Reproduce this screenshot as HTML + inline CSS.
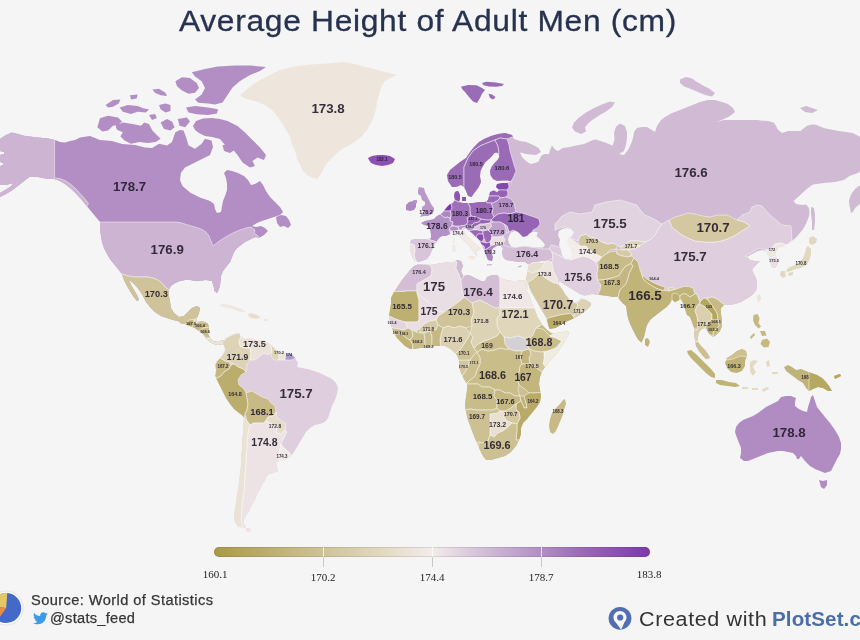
<!DOCTYPE html>
<html lang="en"><head><meta charset="utf-8"><title>Average Height of Adult Men (cm)</title>
<style>
html,body{margin:0;padding:0;background:#f5f5f5;}
body{width:860px;height:640px;overflow:hidden;position:relative;font-family:"Liberation Sans",sans-serif;}
#chart{position:absolute;left:0;top:0;width:860px;height:640px;display:block;filter:blur(0.45px);}
.ttl{position:absolute;left:178.5px;top:3.4px;font-size:30px;line-height:36px;color:#26324f;white-space:nowrap;letter-spacing:0.63px;transform:scaleX(1.06);transform-origin:0 0;-webkit-text-stroke:0.3px #26324f;}
.lg{position:absolute;left:214px;top:547px;width:436px;height:10px;border-radius:5px;background:linear-gradient(90deg,rgb(170,154,70) 0%,rgb(243,236,232) 50%,rgb(222,206,222) 57.56%,rgb(208,186,212) 62.8%,rgb(178,142,196) 75%,rgb(155,108,182) 83.8%,rgb(125,55,172) 100%);box-shadow:inset 0 0 0 1px rgba(60,50,60,0.13);}
.tk{position:absolute;top:547px;width:1px;height:20px;background:linear-gradient(180deg,rgba(255,255,255,.75) 0,rgba(255,255,255,.75) 10px,#c8c8c8 10px,#c8c8c8 20px);}
.tl{position:absolute;width:60px;margin-left:-30px;text-align:center;font-family:"Liberation Serif",serif;font-size:11px;line-height:12px;color:#222;}
.src{position:absolute;left:31px;top:592.9px;font-size:13.8px;line-height:16px;color:#363636;white-space:nowrap;letter-spacing:0.39px;transform:scaleX(1.06);transform-origin:0 0;-webkit-text-stroke:0.25px #363636;}
.tw{position:absolute;left:50px;top:611px;font-size:13.8px;line-height:16px;color:#363636;white-space:nowrap;letter-spacing:0.25px;transform:scaleX(1.06);transform-origin:0 0;-webkit-text-stroke:0.25px #363636;}
.cr{position:absolute;left:639.3px;top:607.2px;font-size:19.6px;line-height:24px;color:#333;white-space:nowrap;letter-spacing:0.55px;transform:scaleX(1.1);transform-origin:0 0;}
.ps{position:absolute;left:771.5px;top:607.2px;font-size:19.6px;line-height:24px;color:#4b6ea8;font-weight:bold;white-space:nowrap;letter-spacing:0.1px;transform:scaleX(1.05);transform-origin:0 0;}
svg text{font-family:"Liberation Sans",sans-serif;font-weight:bold;fill:#241d2b;fill-opacity:0.92;stroke:none;text-anchor:middle;}
</style></head><body>
<svg id="chart" width="860" height="640" viewBox="0 0 860 640">
<defs><clipPath id="c1"><path d="M0,139L6,135L12,132.5L18,134L25,136L38,137.5L48,138.5L55,140L60,142L65,142.5L70,141L75,140L80,137.5L90,136L100,140L112,141L122,144L135,145L145,147.5L152,148L159,143.7L167,145.4L172,142L174,136L175.4,132.2L180,130L183.6,130.6L186,137L188.5,145.4L195,148.7L201.7,143.7L205,138.8L211.5,140.5L213,147L210,155L203,158.5L198,161L192,164L185,167.5L181,172.5L180,180L182.5,186L190,192.5L200,197.5L210,201L214,204L215,209L217,213L221,212L222,206L223,201L225,196L227,190L227,184L226,178L224,173L227,170L232,171L238,173L244,176L248,180L251,185L255,184L260,181L263,185L266,191L270,197L275,202L280,207L283,212L280,215L274,217L268,219L262,221L257,223L252,226L256,227L261,226L265,228L268,231L264,235L259,238L256,237L253,238L249,240L245,242L241,245L237,248L234,252L232,257L230,262L226,267L223,271L221,276L220.5,281L220,285L219,289L217,293L214.5,291L213.5,286L212,281L206,280L202,280.5L196,281L190,280L185,280L180,281L175,283L171,286L169,290L169,296L170,302L171,308L174,313L179,317L184,316L188,312L192,308L197,306L200,308L199,313L197,318L196,321L200,321L205,322L208,324L209,329L208,334L210,338L213,341L218,342L223,340L227,342L226,345L222,344L218,345L214,344L210,342L206,338L203,334L199,331L195,328L190,326L185,324L182,324L178,321L173,320L167,318L161,316L155,312L150,307L146,302L143,296L140,291L136,286L132,282L129,280L131,285L134,290L137,295L139,300L137,301L133,296L130,291L127,286L124,280L122,274L118,269L114,264L110,259L107,254L104,248L102,242L101,236L100,229L100,222L95,216L90,210L85,204L80,198L75,192.5L70,188L65,184L59,180.5L54,179L48,179L38,177L30,176.5L24,181L19,185L12.5,190L6,194L0,197L0,193L5,190L10,187L14,183L10,184L5,185L0,185L0,166L3,165L3,163L0,162L0,155L4,154L4,152L0,151ZM276,217L281,215L286,216L289,220L291,225L288,228L284,226L280,227L277,223ZM193,126L196,121L203,118.5L212,118L220,119L227.5,121L237.5,126L245,132.5L252.5,140L260,147.5L266,155L264,160L257.5,157.5L252.5,161L255,166L250,167.5L242.5,162.5L237.5,155L232.5,149L225,145L220,139L212,137L205,136L199,133L195,130ZM97.4,127.3L99.9,118.3L108,115.8L118,117.5L122,121.6L118,124.9L113,125.7L108,130.6L102.3,131.4ZM115.5,125.7L122.8,122.4L132.7,124L141,125.7L144.2,122.4L149,124L152.4,130.6L157.3,135.5L160.6,138.8L155.7,142L147.5,143L139.3,142L131,143.7L124.5,140.5L120.4,136.4L122.8,132.2L117,129.8ZM105.6,105L113,100L120.4,99.4L118.7,103.5L113,106.8L108,107.6ZM119.6,107.6L127.8,105L137.6,106L144,108.4L149,109.3L145.8,112.5L137.6,111.7L131,114L122.8,111.7ZM130,95.3L137.6,94.5L136.8,98.6L131,99.4ZM152.4,89.6L159,88.7L165.5,92.8L167,96L160.6,95.3L154.9,92.8ZM159,105L165.5,103.5L170.5,105L170.5,111L165.5,112.5L160.6,109.3ZM160.6,122.4L167,119L172,121.6L174.6,127.3L170.5,130.6L164,129ZM177.8,119L186.9,117.5L190,121.6L185.2,127.3L179.5,125.7ZM186,107.6L195,106L208,107.6L218,109.3L217,113.4L208,115L196.7,114.2L188.5,112.5ZM175.4,81.3L182,77.2L190,78L196.7,83L199,87.9L195,92.8L188.5,93.7L182,90.4L177,86.3ZM191.8,72.3L205,69L218,66.6L235,65.5L250,65.5L266,67L260,71L250,75L240,81L232.5,87.5L227.5,95L222.5,102.5L215,104.5L208,103.5L198.4,102.7L195,99.4L201.7,94.5L205,87.9L201.7,81.3L195,76.4ZM222.5,145L232.5,144L236,149L230,153L224,151ZM149,115L155,114L157,118L152,120Z"/></clipPath><clipPath id="c3"><path d="M219,305L224,304L230,305L236,307L242,309L246,312L241,312L235,310L229,308L223,307ZM247,314L252,313L258,315L261,318L256,319L250,318ZM264,319L268,319L268,321L264,321Z"/></clipPath><clipPath id="c4"><path d="M223,342L226,338L230,336L234,334L239,333L241,337L245,339L250,338L256,340L262,340L267,342L271,345L275,349L280,352L286,353L291,354L295,358L298,363L297,367L302,368L308,369L314,371L320,373L326,376L332,379L336,383L338,388L337,394L335,400L332,406L330,412L328,418L325,422L320,424L315,425L310,428L306,432L303,437L300,442L297,447L294,452L291,456L287,459L283,460L279,461L276,463L277,467L278,471L274,473L269,474L266,477L265,481L262,484L261,488L258,492L256,497L254,502L251,506L249,511L246,515L244,519L243,523L246,527L243,528L238,526L235,522L234,516L235,510L236,503L237,496L238,489L239,482L240,474L241,466L241,458L242,450L242,442L243,434L243,426L244,420L243,416L239,413L234,409L230,404L226,398L223,392L220,386L217,380L215,375L216,370L215,365L217,361L220,358L223,354L225,350L224,346ZM246,528L251,529L250,532L246,531Z"/></clipPath><clipPath id="c5"><path d="M419,264L424,264L430,265L436,264L442,263L448,262L454,262L457,260L461,261L463,266L461,271L463,276L469,275L473,277L477,279L481,281L485,281L487,277L492,275L497,275L501,278L506,280L512,281L517,281L522,280L526,281L528,284L528,290L526,287L525,284L524,284L526,290L529,296L531,301L534,308L537,316L540,321L543,326L547,330L551,333L556,333L562,332L568,331L569,334L566,339L562,346L557,353L551,360L546,366L542,371L540,377L539,384L540,390L541,396L540,402L536,408L531,414L527,419L523,423L521,428L521,434L519,440L516,446L511,452L505,456L498,458L491,460L486,460L483,456L480,450L477,443L474,436L471,428L468,420L466,412L465,405L466,397L467,390L467,384L464,379L461,373L459,367L459,360L457,355L453,351L449,348L445,346L440,346L435,346L430,347L425,348L420,348L415,349L410,349L405,346L401,342L397,338L394,333L392,328L390,322L389,316L390,310L391,304L391,298L394,292L398,286L402,280L406,275L410,270L414,266Z"/></clipPath><clipPath id="c7"><path d="M452,187L448,181L447,175L450,170L455,166L460,162L466,158L470,152L474,147L479,142L484,139L491,136L498,134L505,133L512,135L514,139L520,141L526,142L531,144L535,146L538.5,148L541,152L536,155L530,154.5L526,154L520,152.5L522,157L525,160L528,162.5L531,164L535,163L538.5,161.5L540,158L541.5,155.5L544.5,154L549,154L550,150L552,145.6L555,149.4L558,151L562.7,148L570,147L576,145.6L584,144L593,140L596,139.5L605,142.6L612.7,145.6L614.5,140L614,133L616,126.7L620,123.6L625,126L627,132L627,138L626,145L624,151L619,154L624,155L628,150L631,144L633,138L634,132L637,128L642,127L647,127L652,130L655,132L657,126L661,120L665,117L672,113L680,110L690,106L700,102L708,100L715,100L722,102L728,104L733,108L735,112L730,116L724,119L716,122L724,120L732,120L745,120L757,120L765,121L762.5,120.5L768,121L774,122.7L776,126L778,129.7L782,133L788,131L794,131L800.5,131L804,128L807.5,125.5L812,124.5L816,124.8L820,126.5L824.5,128.3L831,129.5L838.5,131L846,132L852.5,133L860,136.7L860,172L855,174L849.5,176L844,180L835,182L824,183L813,184.5L808,188L803,192.5L798,197L793.5,201L796,204L802,205L806,204.5L809,208L809.5,212L809,216L807.5,220L806,224L804,227.5L802,230.5L799,234L796,237.5L793,240L790.5,242L787,244L783,246L779,247L776,251L775,255L777,259L778,264L775,268L772,267L770,262L769,257L767,252L762,250L758,251L754,253L750,255L747,257L750,260L755,261L760,261L757,264L754,267L752,270L754,274L756,278L757,283L757,288L755,292L751,296L746,299L741,302L735,304L729,305L724,305L721,308L721,314L722,320L722,326L720,331L716,335L713,337L710,335L708,332L705,328L702,329L699,332L698,337L698,342L701,346L705,350L708,354L710,358L706,359L702,355L699,351L696,346L695,340L694,334L694,328L692,322L690,317L687,315L685,309L683,303L681,299L678,300.5L675,302L672,299.5L670.5,303L666,307.5L658,313.5L650.5,319.5L647.5,324L646,328L645,333L644,337L641.5,342.5L638.5,340L636,336L634,332L631.5,327L629.5,322.5L628,318L627,313.5L626.5,309L626,306L622.5,303L619,299L618.5,296.5L613,297L608,296L604,295.5L598,294.7L592,294L588,295L584,295.5L580,294L573.5,290L567.5,286.5L561.5,282.5L559,281L558.5,283.5L562.5,289.5L566,295.5L569,298.5L572,301.5L576.5,302.5L581,298.5L586,300L591,303L590.5,306L586,310.5L580,315L573.5,318.5L564.5,322.5L555.5,328L549.5,329L548,324L546.5,318L542,310.5L536,300L532,293L529.5,288L528,282.5L526,279L527,274L528,269L529,265L525,262L518,262L512,261L506,260L503,257L502,252L503,248L501,246L497,246L493,248L491,252L493,257L492,261L488,260L486,255L484,250L482,245L480,241L476,237L472,233L468,230L466,228L463,229L465,233L469,238L473,242L478,246L481,249L478,250L476,252L477,256L474,253L471,248L467,244L463,240L460,236L457,233L454,232L450,234L446,236L442,236L439,238L437,241L434,245L432,250L430,255L427,259L422,261L418,262L414,260L412,256L410,250L410,244L411,240L416,239L422,239L428,239L431,238L431,234L430,229L428,226L424,225L421,223L425,221L430,220L434,219L437,216L441,214L444,211L447,207L450,204L453,203L455,200L454,196L455,192L458,191L460,195L460,199L459,202L463,203L468,203L473,203L479,202L485,202L488,200L489,196L490,192L494,190L497,192L499,190L496,187L497,184L502,183L507,183L513,182L508,180.5L502,180.5L497,181L493,179L490.5,175L490,171L491.5,167L494,163.5L497.5,160L499.5,156.5L498,153.5L496.5,152.5L494.5,153L492,156L489,159L485.5,162L483,166L480.5,171L480,176.5L481,182L478.5,187.5L475,192L471.5,197L468,196L466,191L464,187L461,185L456,187ZM615,102.5L612,107L606,111.5L599,115.5L593,119.5L588,123.5L585,127.5L586,131.5L581,134L575,131.5L572,127.5L574,122.5L579,117.5L586,112.5L594,108L603,104L610,101.5ZM680,79.5L686,77L692,78.5L697,82L703,85.5L709,88.5L715,93L712,96.5L705,95L698,92L691,89L684,86.5L680,83ZM800,108L806,106L812,108L818,110L812,113L805,112ZM811,207L814,208L815,215L815,222L814,230L812,230L812,222L811,214ZM860,185.5L856,188L852.5,192L850,197L849,201L849.5,206L851,213L853,212L855,208L857.5,206L860,204Z"/></clipPath><clipPath id="c19"><path d="M687,351L691,350L696,354L701,359L706,364L711,369L715,374L715,378L711,377L706,373L701,368L696,363L691,358L688,354ZM716,380L722,380L729,382L736,383L740,386L735,387L727,386L720,385L716,383ZM727,358L732,355L737,351L742,349L746,351L747,356L745,361L745,366L742,371L737,373L731,372L727,368L725,363Z"/></clipPath><clipPath id="c21"><path d="M784,367L788,365L792,367L796,370L801,369L806,371L811,373L817,375L822,378L826,382L829,386L832,391L828,391L823,388L818,387L813,389L809,391L806,388L803,383L798,380L794,377L790,374L786,371ZM834,376L840,374L841,376L835,379Z"/></clipPath></defs>
<path d="M0,139L6,135L12,132.5L18,134L25,136L38,137.5L48,138.5L55,140L60,142L65,142.5L70,141L75,140L80,137.5L90,136L100,140L112,141L122,144L135,145L145,147.5L152,148L159,143.7L167,145.4L172,142L174,136L175.4,132.2L180,130L183.6,130.6L186,137L188.5,145.4L195,148.7L201.7,143.7L205,138.8L211.5,140.5L213,147L210,155L203,158.5L198,161L192,164L185,167.5L181,172.5L180,180L182.5,186L190,192.5L200,197.5L210,201L214,204L215,209L217,213L221,212L222,206L223,201L225,196L227,190L227,184L226,178L224,173L227,170L232,171L238,173L244,176L248,180L251,185L255,184L260,181L263,185L266,191L270,197L275,202L280,207L283,212L280,215L274,217L268,219L262,221L257,223L252,226L256,227L261,226L265,228L268,231L264,235L259,238L256,237L253,238L249,240L245,242L241,245L237,248L234,252L232,257L230,262L226,267L223,271L221,276L220.5,281L220,285L219,289L217,293L214.5,291L213.5,286L212,281L206,280L202,280.5L196,281L190,280L185,280L180,281L175,283L171,286L169,290L169,296L170,302L171,308L174,313L179,317L184,316L188,312L192,308L197,306L200,308L199,313L197,318L196,321L200,321L205,322L208,324L209,329L208,334L210,338L213,341L218,342L223,340L227,342L226,345L222,344L218,345L214,344L210,342L206,338L203,334L199,331L195,328L190,326L185,324L182,324L178,321L173,320L167,318L161,316L155,312L150,307L146,302L143,296L140,291L136,286L132,282L129,280L131,285L134,290L137,295L139,300L137,301L133,296L130,291L127,286L124,280L122,274L118,269L114,264L110,259L107,254L104,248L102,242L101,236L100,229L100,222L95,216L90,210L85,204L80,198L75,192.5L70,188L65,184L59,180.5L54,179L48,179L38,177L30,176.5L24,181L19,185L12.5,190L6,194L0,197L0,193L5,190L10,187L14,183L10,184L5,185L0,185L0,166L3,165L3,163L0,162L0,155L4,154L4,152L0,151ZM276,217L281,215L286,216L289,220L291,225L288,228L284,226L280,227L277,223ZM193,126L196,121L203,118.5L212,118L220,119L227.5,121L237.5,126L245,132.5L252.5,140L260,147.5L266,155L264,160L257.5,157.5L252.5,161L255,166L250,167.5L242.5,162.5L237.5,155L232.5,149L225,145L220,139L212,137L205,136L199,133L195,130ZM97.4,127.3L99.9,118.3L108,115.8L118,117.5L122,121.6L118,124.9L113,125.7L108,130.6L102.3,131.4ZM115.5,125.7L122.8,122.4L132.7,124L141,125.7L144.2,122.4L149,124L152.4,130.6L157.3,135.5L160.6,138.8L155.7,142L147.5,143L139.3,142L131,143.7L124.5,140.5L120.4,136.4L122.8,132.2L117,129.8ZM105.6,105L113,100L120.4,99.4L118.7,103.5L113,106.8L108,107.6ZM119.6,107.6L127.8,105L137.6,106L144,108.4L149,109.3L145.8,112.5L137.6,111.7L131,114L122.8,111.7ZM130,95.3L137.6,94.5L136.8,98.6L131,99.4ZM152.4,89.6L159,88.7L165.5,92.8L167,96L160.6,95.3L154.9,92.8ZM159,105L165.5,103.5L170.5,105L170.5,111L165.5,112.5L160.6,109.3ZM160.6,122.4L167,119L172,121.6L174.6,127.3L170.5,130.6L164,129ZM177.8,119L186.9,117.5L190,121.6L185.2,127.3L179.5,125.7ZM186,107.6L195,106L208,107.6L218,109.3L217,113.4L208,115L196.7,114.2L188.5,112.5ZM175.4,81.3L182,77.2L190,78L196.7,83L199,87.9L195,92.8L188.5,93.7L182,90.4L177,86.3ZM191.8,72.3L205,69L218,66.6L235,65.5L250,65.5L266,67L260,71L250,75L240,81L232.5,87.5L227.5,95L222.5,102.5L215,104.5L208,103.5L198.4,102.7L195,99.4L201.7,94.5L205,87.9L201.7,81.3L195,76.4ZM222.5,145L232.5,144L236,149L230,153L224,151ZM149,115L155,114L157,118L152,120Z" fill="#b28ec4"/>
<g clip-path="url(#c1)" stroke="#fff" stroke-opacity="0.6" stroke-width="0.8" stroke-linejoin="round"><path d="M100,222L177,222L182,223L188,225L195,227L201,229L206,232L209,236L211,241L213,246L218,242L224,238L229,235L235,232L240,230L246,228L251,227L255,230L254,233L257,235L262,240L250,300L200,300L171,286L169,290L165,287L162,283L158,280L153,278L148,277L142,277L135,277L128,276L122,274L110,274L90,240L95,222Z" fill="#ccb4d2"/><path d="M-5,120L54.6,120L54.6,178L60,178.5L66,181L71,184.5L76,189L81,194.5L85,199L88.5,203.5L86,208L80,212L-5,212Z" fill="#ccb4d2"/><path d="M180,316L215,316L235,350L200,350Z" fill="#c7ba85"/><path d="M122,274L128,276L135,277L142,277L148,277L153,278L158,280L162,283L165,287L169,290L180,290L205,300L205,312L197,318L194,320L189,320L187,323L184,325L170,330L120,310L110,274Z" fill="#cfc499"/><path d="M184,325L187,323L189,320L194,320L194,324L192,327L189,329L184,328Z" fill="#baac69"/><path d="M194,320L197,318L199,316L199,322L194,324Z" fill="#e2d9c3"/><path d="M192,327L194,324L199,322L210,322L210,327L203,328L199,331L196,331L193,329Z" fill="#c5b881"/><path d="M199,331L203,328L210,327L212,338L207,338L203,335Z" fill="#c8bc89"/><path d="M207,338L212,338L216,340L224,339L229,342L228,347L206,347Z" fill="#ece4d9"/></g>
<path d="M240,95L246,90L252,85L260,80L270,75L280,70L292,67L305,65L318,64L332,63L345,62L358,65L370,68L382,71L397,75L390,78L384,82L381,88L379,95L377,102L376,109L374,116L371,123L367,130L362,136L356,141L350,145L344,148L338,152L333,157L328,162L324,168L321,174L317,179L312,178L307,175L303,171L300,165L297,158L295,151L292,144L290,137L286,130L282,123L277,116L272,110L265,105L258,102L250,100L244,98Z" fill="#eee6dc"/>
<path d="M219,305L224,304L230,305L236,307L242,309L246,312L241,312L235,310L229,308L223,307ZM247,314L252,313L258,315L261,318L256,319L250,318ZM264,319L268,319L268,321L264,321Z" fill="#f0e8e0"/>
<g clip-path="url(#c3)" stroke="#fff" stroke-opacity="0.6" stroke-width="0.8" stroke-linejoin="round"><path d="M247,314L252,313L258,315L261,318L256,319L250,318Z" fill="#e7decd"/></g>
<path d="M223,342L226,338L230,336L234,334L239,333L241,337L245,339L250,338L256,340L262,340L267,342L271,345L275,349L280,352L286,353L291,354L295,358L298,363L297,367L302,368L308,369L314,371L320,373L326,376L332,379L336,383L338,388L337,394L335,400L332,406L330,412L328,418L325,422L320,424L315,425L310,428L306,432L303,437L300,442L297,447L294,452L291,456L287,459L283,460L279,461L276,463L277,467L278,471L274,473L269,474L266,477L265,481L262,484L261,488L258,492L256,497L254,502L251,506L249,511L246,515L244,519L243,523L246,527L243,528L238,526L235,522L234,516L235,510L236,503L237,496L238,489L239,482L240,474L241,466L241,458L242,450L242,442L243,434L243,426L244,420L243,416L239,413L234,409L230,404L226,398L223,392L220,386L217,380L215,375L216,370L215,365L217,361L220,358L223,354L225,350L224,346ZM246,528L251,529L250,532L246,531Z" fill="#decede"/>
<g clip-path="url(#c4)" stroke="#fff" stroke-opacity="0.6" stroke-width="0.8" stroke-linejoin="round"><path d="M223,342L226,338L230,336L234,334L240,333L241,337L239,341L240,346L245,348L250,348L251,354L250,360L247,364L246,372L243,369L238,367L234,364L229,362L225,361L220,358L223,354L225,350L224,346L215,350L215,340Z" fill="#ddd4b8"/><path d="M240,333L241,337L239,341L240,346L245,348L250,348L251,354L250,360L255,360L259,357L264,353L268,355L272,352L271,345L267,342L262,340L256,340L250,338L245,339L242,330Z" fill="#ebe3d7"/><path d="M271,345L272,352L271,356L274,360L279,360L279,355L280,352L275,349L274,343Z" fill="#ded5ba"/><path d="M279,355L279,360L285,360L286,353L280,352Z" fill="#ece4d9"/><path d="M286,353L285,360L291,360L296,358L295,352Z" fill="#a99bcb"/><path d="M215,375L216,370L215,365L217,361L220,358L225,361L229,362L231,365L229,369L224,372L221,376L217,378L212,378L212,360Z" fill="#c4b77f"/><path d="M217,378L221,376L224,372L229,369L231,365L234,364L238,367L243,369L246,372L241,375L238,380L239,385L244,389L246,393L247,398L248,404L247,410L245,414L244,418L240,416L225,405L210,380Z" fill="#bbad6c"/><path d="M246,393L252,391L257,394L262,397L268,399L271,403L275,406L276,412L273,416L268,417L264,423L259,423L254,423L250,425L247,421L245,414L247,410L248,404L247,398Z" fill="#c7ba86"/><path d="M268,417L273,416L276,412L277,418L282,421L286,424L285,430L281,434L276,433L277,428L272,424L266,421Z" fill="#e5dcc9"/><path d="M250,425L254,423L259,423L264,423L266,421L272,424L277,428L276,433L281,434L285,430L287,432L284,438L281,444L280,450L279,461L284,463L284,476L270,482L250,532L243,532L241,520L242,505L244,490L245,475L246,460L247,445L248,432Z" fill="#ede3e5"/><path d="M281,444L284,448L289,452L292,456L288,460L283,461L279,461L280,450Z" fill="#f2ebe6"/><path d="M244,418L247,421L250,425L248,432L247,445L246,460L245,475L244,490L242,505L241,520L243,530L230,530L230,410Z" fill="#eae2d5"/></g>
<path d="M419,264L424,264L430,265L436,264L442,263L448,262L454,262L457,260L461,261L463,266L461,271L463,276L469,275L473,277L477,279L481,281L485,281L487,277L492,275L497,275L501,278L506,280L512,281L517,281L522,280L526,281L528,284L528,290L526,287L525,284L524,284L526,290L529,296L531,301L534,308L537,316L540,321L543,326L547,330L551,333L556,333L562,332L568,331L569,334L566,339L562,346L557,353L551,360L546,366L542,371L540,377L539,384L540,390L541,396L540,402L536,408L531,414L527,419L523,423L521,428L521,434L519,440L516,446L511,452L505,456L498,458L491,460L486,460L483,456L480,450L477,443L474,436L471,428L468,420L466,412L465,405L466,397L467,390L467,384L464,379L461,373L459,367L459,360L457,355L453,351L449,348L445,346L440,346L435,346L430,347L425,348L420,348L415,349L410,349L405,346L401,342L397,338L394,333L392,328L390,322L389,316L390,310L391,304L391,298L394,292L398,286L402,280L406,275L410,270L414,266Z" fill="#ccc091"/>
<g clip-path="url(#c5)" stroke="#fff" stroke-opacity="0.6" stroke-width="0.8" stroke-linejoin="round"><path d="M419,264L430,265L432,270L431,276L424,280L417,284L417,291L405,291L391,292L380,295L385,280L410,260Z" fill="#d3bed6"/><path d="M391,291.5L405,291.5L405,291L417,291L417,293L419,300L419,320L417,322L405,322L398,320L393,318L389,316L384,316L384,292Z" fill="#beb071"/><path d="M431,266L440,260L454,260L457,262L456,268L459,274L461,280L462,290L464,297L460,301L450,308L444,312L438,311L432,305L424,299L417,293L417,284L424,280L431,276L432,270Z" fill="#e9dee3"/><path d="M454,260L457,258L464,260L465,268L463,272L464,276L461,280L459,274L456,268L457,262Z" fill="#d0bad4"/><path d="M461,280L464,276L465,272L477,272L497,272L500,279L500,290L500,303L499,308L495,308L480,300L472,303L464,297L462,290Z" fill="#d3bed6"/><path d="M500,279L497,272L530,272L530,296L532,300L536,308L500,308L500,290Z" fill="#f0e7e6"/><path d="M500,308L536,308L540,316L545,324L540,326L536,328L533,335L530,338L524,338L518,336L510,338L504,337L500,332L497,326L497,318L500,315Z" fill="#dfd6bc"/><path d="M504,337L510,338L518,336L524,338L527,343L529,349L522,351L515,351L509,349L505,344Z" fill="#d3d1d4"/><path d="M530,338L533,335L536,328L540,326L543,329L547,333L550,336L556,338L562,341L556,348L548,351L540,352L534,351L529,349L527,343Z" fill="#c9bd8c"/><path d="M536,328L540,326L545,322L550,330L553,334L550,336L547,333L543,329Z" fill="#c7ba85"/><path d="M550,336L553,334L575,326L575,340L562,346L551,360L546,368L543,364L544,358L544,352L548,351L556,348L562,341L556,338Z" fill="#efede2"/><path d="M529,349L534,351L540,352L544,352L544,358L543,364L546,368L544,374L538,369L530,364L529,358L531,354Z" fill="#d1c69d"/><path d="M522,351L529,349L531,354L529,358L530,364L522,364L520,358Z" fill="#c3b67d"/><path d="M522,364L530,364L538,369L544,374L545,384L545,392L535,393L529,393L525,389L519,385L517,378L519,372L520,366Z" fill="#c3b67d"/><path d="M477,352L482,349L488,351L494,350L500,348L505,349L509,349L515,351L522,351L520,358L522,364L520,366L519,372L517,378L519,385L518,390L520,396L515,396L510,393L505,393L500,390L495,390L490,387L482,387L478,384L470,384L466,384L470,380L475,376L477,370L480,364L480,358Z" fill="#c9bd8a"/><path d="M466,384L470,380L475,376L477,370L480,364L480,358L477,352L473,356L470,360L468,366L465,372L462,376L460,384Z" fill="#ccc091"/><path d="M455,360L466,360L470,360L468,366L465,372L462,376L455,376Z" fill="#d1c69d"/><path d="M453,355L460,350L464,344L468,338L470,333L473,337L471,342L474,348L477,352L473,356L470,360L466,360L455,360Z" fill="#cec396"/><path d="M474,348L478,344L484,341L490,339L497,336L500,332L504,337L505,344L509,349L505,349L500,348L494,350L488,351L482,349L477,352Z" fill="#cabe8d"/><path d="M470,333L472,326L471,320L474,312L472,303L480,300L495,308L499,308L500,315L497,318L497,326L500,332L497,336L490,339L484,341L478,344L474,348L471,342L473,337Z" fill="#dcd3b6"/><path d="M444,312L450,308L460,301L464,297L472,303L474,312L471,320L472,326L466,328L460,326L454,328L448,326L443,328L438,325L436,320L438,316Z" fill="#cfc499"/><path d="M443,328L448,326L454,328L460,326L466,328L470,333L468,338L464,344L460,350L453,355L449,352L441,350L440,340L441,334Z" fill="#dbd1b2"/><path d="M417,293L424,299L432,305L438,311L444,312L438,316L436,320L430,321L424,324L420,328L416,332L412,330L408,328L405,322L417,322L419,320L419,300Z" fill="#e9dee3"/><path d="M420,328L424,324L430,321L436,320L438,325L436,330L430,331L424,333L420,333Z" fill="#d5cba6"/><path d="M384,316L389,316L393,318L398,320L405,322L408,328L404,330L398,329L392,328L384,328Z" fill="#e3d5e0"/><path d="M388,328L392,328L398,329L404,330L408,328L412,330L413,336L410,340L406,338L402,334L397,334L394,335L388,334Z" fill="#c7bb87"/><path d="M394,335L397,334L402,334L406,338L410,340L413,345L412,352L400,350L392,340Z" fill="#bfb275"/><path d="M412,330L416,332L420,333L424,333L425,340L425,350L412,352L413,345L410,340L413,336Z" fill="#c8bc89"/><path d="M424,333L430,331L432,336L432,342L432,350L425,350L425,340Z" fill="#cabe8d"/><path d="M430,331L436,330L438,325L443,328L441,334L440,340L441,350L432,350L432,336Z" fill="#c5b881"/><path d="M460,384L466,384L470,384L478,384L482,387L490,387L495,390L494,396L497,400L497,408L493,410L485,410L477,410L470,409L465,410L460,410Z" fill="#c8bc89"/><path d="M495,390L500,390L505,393L510,393L515,396L520,396L521,401L516,404L511,408L506,411L500,411L497,408L497,400L494,396Z" fill="#c5b882"/><path d="M520,396L524,396L526,402L527,408L524,408L522,403L521,401Z" fill="#c1b479"/><path d="M524,396L529,393L535,393L545,392L545,400L536,412L527,422L524,428L524,440L516,440L517,430L517,424L520,418L519,412L516,410L516,404L521,401L522,403L524,408L527,408L526,402Z" fill="#b9ab67"/><path d="M506,411L511,408L516,404L516,410L519,412L520,418L517,424L512,423L507,421L503,416Z" fill="#d3c8a1"/><path d="M490,414L497,413L500,411L506,411L503,416L507,421L512,423L508,427L503,431L498,433L494,437L490,435L490,425Z" fill="#e9e0d1"/><path d="M460,410L465,410L470,409L477,410L485,410L493,410L497,408L500,411L497,413L490,414L490,425L490,435L488,441L483,443L479,442L470,445L460,420Z" fill="#cdc193"/><path d="M479,442L483,443L488,441L490,435L494,437L498,433L503,431L508,427L512,423L517,424L517,430L516,440L524,440L520,450L505,462L486,464L478,452Z" fill="#ccc192"/></g>
<path d="M565,399L566,404L564,410L562,417L559,424L556,431L553,434L550,432L549,426L550,419L552,413L556,408L560,404L563,400Z" fill="#c7ba85"/>
<path d="M452,187L448,181L447,175L450,170L455,166L460,162L466,158L470,152L474,147L479,142L484,139L491,136L498,134L505,133L512,135L514,139L520,141L526,142L531,144L535,146L538.5,148L541,152L536,155L530,154.5L526,154L520,152.5L522,157L525,160L528,162.5L531,164L535,163L538.5,161.5L540,158L541.5,155.5L544.5,154L549,154L550,150L552,145.6L555,149.4L558,151L562.7,148L570,147L576,145.6L584,144L593,140L596,139.5L605,142.6L612.7,145.6L614.5,140L614,133L616,126.7L620,123.6L625,126L627,132L627,138L626,145L624,151L619,154L624,155L628,150L631,144L633,138L634,132L637,128L642,127L647,127L652,130L655,132L657,126L661,120L665,117L672,113L680,110L690,106L700,102L708,100L715,100L722,102L728,104L733,108L735,112L730,116L724,119L716,122L724,120L732,120L745,120L757,120L765,121L762.5,120.5L768,121L774,122.7L776,126L778,129.7L782,133L788,131L794,131L800.5,131L804,128L807.5,125.5L812,124.5L816,124.8L820,126.5L824.5,128.3L831,129.5L838.5,131L846,132L852.5,133L860,136.7L860,172L855,174L849.5,176L844,180L835,182L824,183L813,184.5L808,188L803,192.5L798,197L793.5,201L796,204L802,205L806,204.5L809,208L809.5,212L809,216L807.5,220L806,224L804,227.5L802,230.5L799,234L796,237.5L793,240L790.5,242L787,244L783,246L779,247L776,251L775,255L777,259L778,264L775,268L772,267L770,262L769,257L767,252L762,250L758,251L754,253L750,255L747,257L750,260L755,261L760,261L757,264L754,267L752,270L754,274L756,278L757,283L757,288L755,292L751,296L746,299L741,302L735,304L729,305L724,305L721,308L721,314L722,320L722,326L720,331L716,335L713,337L710,335L708,332L705,328L702,329L699,332L698,337L698,342L701,346L705,350L708,354L710,358L706,359L702,355L699,351L696,346L695,340L694,334L694,328L692,322L690,317L687,315L685,309L683,303L681,299L678,300.5L675,302L672,299.5L670.5,303L666,307.5L658,313.5L650.5,319.5L647.5,324L646,328L645,333L644,337L641.5,342.5L638.5,340L636,336L634,332L631.5,327L629.5,322.5L628,318L627,313.5L626.5,309L626,306L622.5,303L619,299L618.5,296.5L613,297L608,296L604,295.5L598,294.7L592,294L588,295L584,295.5L580,294L573.5,290L567.5,286.5L561.5,282.5L559,281L558.5,283.5L562.5,289.5L566,295.5L569,298.5L572,301.5L576.5,302.5L581,298.5L586,300L591,303L590.5,306L586,310.5L580,315L573.5,318.5L564.5,322.5L555.5,328L549.5,329L548,324L546.5,318L542,310.5L536,300L532,293L529.5,288L528,282.5L526,279L527,274L528,269L529,265L525,262L518,262L512,261L506,260L503,257L502,252L503,248L501,246L497,246L493,248L491,252L493,257L492,261L488,260L486,255L484,250L482,245L480,241L476,237L472,233L468,230L466,228L463,229L465,233L469,238L473,242L478,246L481,249L478,250L476,252L477,256L474,253L471,248L467,244L463,240L460,236L457,233L454,232L450,234L446,236L442,236L439,238L437,241L434,245L432,250L430,255L427,259L422,261L418,262L414,260L412,256L410,250L410,244L411,240L416,239L422,239L428,239L431,238L431,234L430,229L428,226L424,225L421,223L425,221L430,220L434,219L437,216L441,214L444,211L447,207L450,204L453,203L455,200L454,196L455,192L458,191L460,195L460,199L459,202L463,203L468,203L473,203L479,202L485,202L488,200L489,196L490,192L494,190L497,192L499,190L496,187L497,184L502,183L507,183L513,182L508,180.5L502,180.5L497,181L493,179L490.5,175L490,171L491.5,167L494,163.5L497.5,160L499.5,156.5L498,153.5L496.5,152.5L494.5,153L492,156L489,159L485.5,162L483,166L480.5,171L480,176.5L481,182L478.5,187.5L475,192L471.5,197L468,196L466,191L464,187L461,185L456,187ZM615,102.5L612,107L606,111.5L599,115.5L593,119.5L588,123.5L585,127.5L586,131.5L581,134L575,131.5L572,127.5L574,122.5L579,117.5L586,112.5L594,108L603,104L610,101.5ZM680,79.5L686,77L692,78.5L697,82L703,85.5L709,88.5L715,93L712,96.5L705,95L698,92L691,89L684,86.5L680,83ZM800,108L806,106L812,108L818,110L812,113L805,112ZM811,207L814,208L815,215L815,222L814,230L812,230L812,222L811,214ZM860,185.5L856,188L852.5,192L850,197L849,201L849.5,206L851,213L853,212L855,208L857.5,206L860,204Z" fill="#d0bad4"/>
<g clip-path="url(#c7)" stroke="#fff" stroke-opacity="0.6" stroke-width="0.8" stroke-linejoin="round"><path d="M464,187L464,178L464,167L468,158L473,151L480,146L487,143L495,140L500,138L507,139L512,137L520,137L520,125L440,125L440,195L460,195Z" fill="#9b6cb6"/><path d="M464,187L464,178L464,167L468,158L473,151L480,146L487,143L495,140L498,146L499,153L485,170L485,185L475,200L464,198Z" fill="#9b6cb6"/><path d="M495,140L500,138L507,139L509,145L510,151L512,158L514,165L516,171L513,178L510,183L488,183L487,170L498,158L499,153L498,146Z" fill="#9a6ab6"/><path d="M494,187L497,183L502,182L508,182L509,187L507,190L504,190L499,190Z" fill="#8647af"/><path d="M488,192L494,190L497,192L499,190L504,190L507,190L508,194L506,197L500,198L499,196L494,196L489,196Z" fill="#9561b4"/><path d="M486,200L489,196L494,196L499,196L500,198L497,201L493,203L491,203L487,203Z" fill="#9969b5"/><path d="M491,203L493,203L497,201L500,198L506,197L511,199L514,203L515,208L516,212L510,214L504,213L498,214L494,217L492,213L493,208Z" fill="#b28ec4"/><path d="M494,217L498,214L504,213L510,214L516,212L522,213L528,215L534,217L539,219L540,224L537,228L533,230L531,234L527,238L520,238L517,232L513,230L509,232L507,226L504,224L500,222L494,222L491,220Z" fill="#9664b4"/><path d="M504,224L507,226L509,232L506,233L506,229Z" fill="#cab2d1"/><path d="M466,200L473,200L479,199L485,199L487,203L491,203L493,208L492,213L494,217L491,220L486,220L481,219L476,217L471,216L470,212L470,207L468,203Z" fill="#9969b5"/><path d="M451,204L453,200L455,200L459,202L463,200L466,200L468,203L470,207L470,212L471,216L467,218L468,222L466,225L460,226L455,226L452,225L453,222L450,221L451,215L450,211L452,208Z" fill="#9e70b8"/><path d="M452,189L462,189L462,200L459,202L455,200L452,200Z" fill="#8e55b2"/><path d="M442,207L448,202L451,204L452,208L450,211L446,211L443,211Z" fill="#7d37ac"/><path d="M440,214L443,211L446,211L450,211L451,215L450,218L447,217L445,218Z" fill="#ad86c1"/><path d="M419,224L427,218L432,218L436,215L440,214L445,218L447,217L450,218L450,221L453,222L451,227L449,230L451,234L450,240L439,243L434,241L430,240L430,235L429,230L424,228Z" fill="#b390c5"/><path d="M408,238L416,237L422,237L430,240L434,241L439,243L440,250L430,262L418,264L415,259L414,255L415,250L414,245L411,244Z" fill="#d8c5da"/><path d="M408,244L411,244L414,245L415,250L414,255L415,259L418,264L408,262Z" fill="#ebe0e4"/><path d="M449,228L453,226L458,227L459,230L455,231L451,231Z" fill="#b28ec4"/><path d="M458,227L460,226L466,225L472,225L475,227L473,230L467,231L462,230L459,230Z" fill="#b592c6"/><path d="M451,231L455,231L459,230L462,230L467,231L466,228L462,228L465,233L469,238L473,242L478,246L483,249L478,251L478,258L474,254L471,248L467,244L463,240L460,236L457,233L454,234L450,236Z" fill="#f1eae4"/><path d="M467,218L471,216L476,217L481,219L479,222L474,223L472,225L466,225L468,222Z" fill="#9561b4"/><path d="M479,222L481,219L486,220L491,220L490,223L484,224L480,224L475,227L472,225L474,223Z" fill="#9664b4"/><path d="M475,227L480,224L484,224L490,223L492,226L488,230L483,231L477,230L473,230Z" fill="#d9c7db"/><path d="M464,227L467,231L473,230L477,230L483,231L483,234L478,234L476,237L480,241L476,243L470,236L466,232Z" fill="#9867b5"/><path d="M476,237L478,234L483,234L484,238L482,242L480,241Z" fill="#894cb0"/><path d="M483,231L488,230L491,233L492,238L490,242L486,243L484,238L483,234Z" fill="#9969b5"/><path d="M480,241L482,242L486,243L490,242L491,246L488,248L485,250L484,246L482,245L479,243Z" fill="#8d54b1"/><path d="M490,223L494,222L500,222L504,224L506,229L506,233L503,236L498,237L493,237L491,233L488,230L492,226Z" fill="#bfa1cb"/><path d="M491,238L493,237L498,237L503,236L505,240L503,244L498,245L493,245L491,246L490,242L492,238Z" fill="#ebe0e4"/><path d="M483,250L485,250L488,248L491,246L493,245L498,245L503,244L503,248L497,248L493,250L494,257L493,263L486,262L484,255Z" fill="#aa83bf"/><path d="M501,244L506,246L512,248L518,247L524,246L530,247L537,248L543,249L549,249L552,252L553,258L548,261L540,262L532,263L529,265L525,264L518,264L512,263L506,262L501,258L500,252Z" fill="#d3bed6"/><path d="M549,249L551,245L556,246L561,248L566,251L566,259L560,256L556,254L552,252Z" fill="#dcccdd"/><path d="M529,265L532,263L540,262L545,262L543,267L538,271L532,273L529,271L526,271L526,265Z" fill="#e7decd"/><path d="M524,272L529,271L532,273L538,271L542,274L536,276L532,280L528,284L524,282Z" fill="#e2d9c3"/><path d="M540,262L548,261L552,262L553,270L555,274L557,278L559,281L558,284L554,283L550,281L544,277L540,274L538,271L543,267L545,262Z" fill="#eee6dc"/><path d="M528,282L532,280L536,276L540,274L544,277L550,281L554,283L558,284L563,290L567,296L570,300L573,302L577,303L578,306L576.7,308L574.5,313L573.6,316.7L570.6,313.6L566,314L560,315L554,316.5L548,318L546.5,320L540,322L525,290Z" fill="#d3c8a1"/><path d="M548,318L554,316.5L560,315L566,314L570.6,313.6L573.6,316.7L576,320L570,326L549,334L544,326L546.5,320Z" fill="#baab68"/><path d="M573.6,316.7L574.5,313L576.7,308L578,306L577,303L580,300L582,297L595,298L595,310L583,320L576,322Z" fill="#dcd2b4"/><path d="M569,299L573,302L577,303L580,300L581.5,297L577,298.5L573,299.5Z" fill="#e3dac5"/><path d="M552,252L556,254L560,256L566,259L570,260L576,258L583,256L590,258L596,262L598,268L597,274L597.6,280.3L601,285L600,290L598,298L590,299L582,298L575,294L568,290L562,286L558,283L557,278L555,274L553,270L552,262L553,258Z" fill="#e0d0df"/><path d="M565,236L570,238L576,242L580,246L586,246L590,250L596,254L602,257L600,260L596,262L590,258L583,256L576,258L570,260L568,250L568,244Z" fill="#f3ece8"/><path d="M580,236L586,234L590,237L596,238L602,242L608,244L613,243L618,245L616,249L610,250L606,254L602,257L596,254L590,250L586,246L580,246L578,241Z" fill="#d1c69d"/><path d="M557,222L562,216L570,212L580,214L592,212L595,205L606,202L620,200L630,203L637,205L641,211L645,215L654,219L662,224L658,230L655,235L650,240L645,242L638,241L630,241L625,245L620,247L613,243L608,244L602,242L596,238L590,237L586,234L580,236L578,241L570,238L572,233L570,228L565,227L560,228L555,230L555,224Z" fill="#e1d3e0"/><path d="M620,247L625,245L630,241L638,241L645,242L640,246L634,249L628,250L622,250Z" fill="#dcd2b4"/><path d="M616,249L622,250L628,250L632,254L628,257L622,256L617,254Z" fill="#d5cba6"/><path d="M632,245L640,246L645,242L650,240L655,235L658,230L662,224L669,220L672,227L677,231L682,235L688,238L695,241L705,242L715,242L721,241L727,239L734,236L740,232L745,229L750,226L744,222L737,220L742,215L750,212L752,207L757,205L762,206L770,215L782,225L791,226L792,240L787,245L781,243L775,244L770,250L765,250L760,248L745,256L752,259L762,260L762,290L755,300L735,308L726,306L722,303L717,299L712,297L708,298L704,298L700,302L698,297L696,293L694,296L680,296L660,294L645,288L638,275L632,266L630,258L632,254L628,250L634,249L640,246Z" fill="#decede"/><path d="M669,220L675,217L682,215L688,213L695,214L703,216L710,217L718,215L727,215L733,218L737,220L744,222L750,226L745,229L740,232L734,236L727,239L721,241L715,242L705,242L695,241L688,238L682,235L677,231L672,227Z" fill="#d3c8a1"/><path d="M598,262L602,257L606,254L610,252L616,251L617,254L622,256L628,257L632,256L634,258L631,263.6L625,266.7L622,271L618.8,275.8L612,278L605,279.5L597.6,280.3L597,274L598,268Z" fill="#c8bc89"/><path d="M597.6,280.3L605,279.5L612,278L618.8,275.8L622,271L625,266.7L631,263.6L633,266L631,270L629.4,272.7L628,278L626.4,283.3L623,287L620.3,289.4L619,293L618.8,296L619,302L598,302L598,294L600,290L601,285Z" fill="#c4b780"/><path d="M631,263.6L634,258L638,262L640,269.7L641.5,274L643,278.8L646.5,282L650.6,284.8L655,287.5L659.7,289.4L664,290.5L668.8,291L672,290L674.8,289.4L679,288L684,286.4L688.5,286.5L693,287.9L695,294L690,297L686,294L682,294L680,296L680,305L676,306L672,300L668,308L660,316L650,326L646,350L636,348L624,312L616,303L618.8,296L619,293L620.3,289.4L623,287L626.4,283.3L628,278L629.4,272.7L631,270L633,266Z" fill="#c1b479"/><path d="M642,275L646,278.5L651,281.5L656,284L661,286L665,287L664,290.5L659.7,289.4L655,287.5L650.6,284.8L646.5,282L643,278.8Z" fill="#baab68"/><path d="M668,288L673,287L674.8,289.4L672,290L668.8,291Z" fill="#dad0b0"/><path d="M672,294L676,293L680,296L680,305L676,306L672,300Z" fill="#bcae6e"/><path d="M680,296L682,294L686,294L690,297L695,294L696,293L698,297L700,302L697,306L695,311L697,316L698,322L697,330L692,326L688,318L684,316L683,303L680,305Z" fill="#c2b57b"/><path d="M697,306L700,304L704,306L708,310L712,314L712,320L708,322L706,326L704,330L700,334L699,338L698,342L693,342L693,330L697,330L698,322L697,316L695,311Z" fill="#dad0b0"/><path d="M700,302L704,298L708,300L711,304L714,308L717,313L718,318L718,320L712,320L712,314L708,310L704,306L700,304Z" fill="#b4a65d"/><path d="M708,298L712,297L717,299L722,303L726,306L726,330L718,338L713,338L713,332L718,327L719,326L718,320L718,318L717,313L714,308L711,304L708,300Z" fill="#c7ba85"/><path d="M706,326L708,322L712,320L718,320L719,326L718,327L713,332L713,336L707,333Z" fill="#beb071"/><path d="M693,342L698,342L703,344L708,350L712,358L706,361L701,356L696,350Z" fill="#ccc091"/><path d="M765,250L770,250L775,244L781,243L787,245L782,250L778,252L778,256L770,258L767,254Z" fill="#f0e8e0"/><path d="M768,258L778,256L780,260L780,266L774,270L770,268Z" fill="#ebe0e4"/></g>
<path d="M419,187L424,188L425,192L427,196L429,200L431,204L434,208L434,211L432,214L428,216L424,216L420,217L422,213L425,212L422,210L422,207L425,205L425,202L422,200L421,196L418,194L418,190ZM413,200L417,200L417,203L414,204Z" fill="#b998c8"/>
<path d="M461,86.7L468,85L476.6,85.3L482,88L485,90L482,93.8L480,98L477,103L473,101.5L469,97L465,92L462.5,89.5ZM482,83L486.4,81.8L496,82.5L504,84L502,86L496,86.7L489,86.4L483.6,85.3ZM488.5,93.8L492,94.5L495.5,97L493.4,99.4L490,98Z" fill="#9b6cb6"/>
<path d="M406,205L409,202L413,201L416,203L416,207L414,210L410,211L406,210Z" fill="#ae88c2"/>
<path d="M368,158L372,156L378,155L384,155L390,156L395,159L393,163L388,165L382,166L376,165L371,163L369,160Z" fill="#8c52b1"/>
<path d="M468,256L476,256L474,260L469,259ZM452,245L455,244L456,251L453,252ZM453,238L455,238L455,243L453,243Z" fill="#f1eae4"/>
<path d="M462,197L466,197L466,201L462,201Z" fill="#8e55b2"/>
<path d="M487,264.3L492,264L492,265.3L487,265.5ZM518,266.5L521.5,265.3L521.5,266.8L518,267.6Z" fill="#cab2d1"/>
<path d="M809,238L813,236L817,239L816,243L812,245L809,243ZM808,246L811,249L811,255L809,261L806,265L801,268L796,269L791,271L787,272L786,270L790,267L795,265L800,262L803,258L805,253L806,248ZM781,271L785,271L786,276L783,278L780,275ZM788,273L793,272L793,275L789,276Z" fill="#e1d8c0"/>
<path d="M757,296L760,294L761,299L758,303Z" fill="#ebe3d7"/>
<path d="M753.5,315L757.5,314L759.5,318L758.5,323L761,326.5L758.5,328.5L755,325L753,320ZM762,340L767,338.5L770,342L768.5,347L764,347.5L760.5,344ZM760,331L765,331L766.5,335.5L762,336ZM750,337L754,333L755,335L751,339Z" fill="#c5b881"/>
<path d="M645,339L648,338L650,342L648,347L645,345Z" fill="#c1b479"/>
<path d="M687,351L691,350L696,354L701,359L706,364L711,369L715,374L715,378L711,377L706,373L701,368L696,363L691,358L688,354ZM716,380L722,380L729,382L736,383L740,386L735,387L727,386L720,385L716,383ZM727,358L732,355L737,351L742,349L746,351L747,356L745,361L745,366L742,371L737,373L731,372L727,368L725,363Z" fill="#c0b378"/>
<g clip-path="url(#c19)" stroke="#fff" stroke-opacity="0.6" stroke-width="0.8" stroke-linejoin="round"><path d="M725,350L750,346L750,357L740,356L733,359L726,360Z" fill="#ccc091"/></g>
<path d="M750,362L754,360L758,361L755,364L753,367L756,372L753,376L750,372L750,367ZM742,387L748,387L748,389L742,389ZM752,388L758,388L758,390L752,390ZM762,389L768,387L769,389L763,392ZM766,362L769,360L770,366L767,367ZM772,372L778,372L778,374L772,374Z" fill="#e3dac5"/>
<path d="M784,367L788,365L792,367L796,370L801,369L806,371L811,373L817,375L822,378L826,382L829,386L832,391L828,391L823,388L818,387L813,389L809,391L806,388L803,383L798,380L794,377L790,374L786,371ZM834,376L840,374L841,376L835,379Z" fill="#c0b378"/>
<g clip-path="url(#c21)" stroke="#fff" stroke-opacity="0.6" stroke-width="0.8" stroke-linejoin="round"><path d="M809,360L845,360L845,395L809,395Z" fill="#b6a861"/></g>
<path d="M813,395L815,401L817,407L821,412L825,417L830,423L835,430L839,437L841,443L841,449L840,454L837,459L835,463L833,467L831,471L825,473L820,471L815,469L810,466L805,461L801,456L799,459L797,459L796,456L793,453L788,452L783,451L778,451L773,452L768,453L763,455L758,457L753,459L748,461L744,461L740,458L741,453L741,448L739,443L737,438L735,432L736,427L739,423L743,420L748,418L753,416L758,413L762,410L766,407L770,405L774,403L778,401L781,397L786,396L791,396L796,398L795,402L795,406L799,409L803,411L807,412L808,407L810,401L811,397ZM819,480L823,481L827,480L827,485L824,489L821,487Z" fill="#b18cc3"/>
<path d="M509,236L511,232.5L515,231L518,232L520,234L523,237L527,236L530,233L534,231.5L538,232.5L536.5,236L540,239L543,242L545,245L543,247.5L538,247.5L532,247L526,246L520,246.5L515,247.5L511,246.5L509,243L508,239.5Z" fill="#f5f5f5"/>
<path d="M562,229L566,228L571,229L574,232L572,236L568,238L567,242L569,246L571,250L572,255L570,259L565,259L562,255L561,250L559,245L560,240L558,235L559,231Z" fill="#f5f5f5"/>
<g><text x="129.5" y="190.524" font-size="13.199" stroke-width="0.00">178.7</text><text x="167.2" y="254.26" font-size="13.2975" stroke-width="0.00">176.9</text><text x="328" y="112.56" font-size="13.2975" stroke-width="0.00">173.8</text><text x="691" y="176.56" font-size="13.2975" stroke-width="0.00">176.6</text><text x="610" y="227.596" font-size="13.396" stroke-width="0.00">175.5</text><text x="713" y="231.56" font-size="13.2975" stroke-width="0.00">170.7</text><text x="690" y="260.56" font-size="13.2975" stroke-width="0.00">175.7</text><text x="645" y="300.096" font-size="13.396" stroke-width="0.00">166.5</text><text x="789" y="437.06" font-size="13.2975" stroke-width="0.00">178.8</text><text x="296" y="397.56" font-size="13.2975" stroke-width="0.00">175.7</text><text x="434" y="290.56" font-size="13.2975" stroke-width="0.00">175</text><text x="478" y="296.02" font-size="11.82" stroke-width="0.00">176.4</text><text x="558" y="309.164" font-size="12.214" stroke-width="0.00">170.7</text><text x="516" y="222.48" font-size="10.3425" stroke-width="0.00">181</text><text x="264.5" y="445.552" font-size="10.5395" stroke-width="0.00">174.8</text><text x="262" y="415.12" font-size="9.3575" stroke-width="0.00">168.1</text><text x="254.5" y="347.048" font-size="9.1605" stroke-width="0.00">173.5</text><text x="237.5" y="359.832" font-size="8.5695" stroke-width="0.00">171.9</text><text x="429" y="315.48" font-size="10.3425" stroke-width="0.00">175</text><text x="515" y="317.66" font-size="10.835" stroke-width="0.00">172.1</text><text x="539" y="345.588" font-size="10.638" stroke-width="0.00">168.8</text><text x="492.5" y="378.66" font-size="10.835" stroke-width="0.00">168.6</text><text x="523" y="380.98" font-size="10.3425" stroke-width="0.00">167</text><text x="497" y="449.16" font-size="10.835" stroke-width="0.00">169.6</text><text x="527" y="256.94" font-size="8.865" stroke-width="0.00">176.4</text><text x="578" y="280.732" font-size="11.032" stroke-width="0.00">175.6</text><text x="437" y="228.832" font-size="8.5695" stroke-width="0.00">178.6</text><text x="156.3" y="297.084" font-size="9.259" stroke-width="0.00">170.3</text><text x="402" y="308.58" font-size="7.88" stroke-width="0.00">165.5</text><text x="459" y="315.44" font-size="8.865" stroke-width="0.00">170.3</text><text x="512.5" y="298.58" font-size="7.88" stroke-width="0.00">174.6</text><text x="453" y="341.972" font-size="7.5845" stroke-width="0.00">171.6</text><text x="482.5" y="398.58" font-size="7.88" stroke-width="0.00">168.5</text><text x="505.5" y="404.4" font-size="7.3875" stroke-width="0.00">167.6</text><text x="426" y="248.22" font-size="6.895" stroke-width="0.00">176.1</text><text x="460" y="216.04" font-size="6.4025" stroke-width="0.00">180.3</text><text x="484" y="213.22" font-size="6.895" stroke-width="0.00">180.7</text><text x="481" y="322.932" font-size="6.107" stroke-width="0.00">171.8</text><text x="487" y="348.22" font-size="6.895" stroke-width="0.00">169</text><text x="477" y="419.04" font-size="6.4025" stroke-width="0.00">169.7</text><text x="497.5" y="427.22" font-size="6.895" stroke-width="0.00">173.2</text><text x="510.5" y="415.68" font-size="5.4175" stroke-width="0.00">170.7</text><text x="533" y="403.32" font-size="4.4325" stroke-width="0.00">164.2</text><text x="532" y="367.68" font-size="5.4175" stroke-width="0.00">170.5</text><text x="455" y="178.68" font-size="5.4175" stroke-width="0.00">180.5</text><text x="476" y="165.68" font-size="5.4175" stroke-width="0.00">180.5</text><text x="502" y="169.86" font-size="5.91" stroke-width="0.00">180.6</text><text x="506" y="206.86" font-size="5.91" stroke-width="0.00">178.7</text><text x="497" y="233.86" font-size="5.91" stroke-width="0.00">177.8</text><text x="426" y="213.68" font-size="5.4175" stroke-width="0.00">178.2</text><text x="419" y="273.68" font-size="5.4175" stroke-width="0.00">176.4</text><text x="544.5" y="276.18" font-size="5.4175" stroke-width="0.00">173.8</text><text x="587.5" y="254.22" font-size="6.895" stroke-width="0.00">174.4</text><text x="592" y="242.5" font-size="4.925" stroke-width="0.00">170.5</text><text x="631" y="247.5" font-size="4.925" stroke-width="0.00">171.7</text><text x="609" y="268.58" font-size="7.88" stroke-width="0.00">168.5</text><text x="612" y="285.112" font-size="6.5995" stroke-width="0.00">167.3</text><text x="687.5" y="307.932" font-size="6.107" stroke-width="0.00">166.7</text><text x="704" y="326.18" font-size="5.4175" stroke-width="0.00">171.5</text><text x="734" y="367.68" font-size="5.4175" stroke-width="0.00">166.3</text><text x="559" y="324.5" font-size="4.925" stroke-width="0.00">164.4</text><text x="579" y="313.32" font-size="4.4325" stroke-width="0.00">171.7</text><text x="235" y="395.68" font-size="5.4175" stroke-width="0.00">164.8</text><text x="275" y="427.5" font-size="4.925" stroke-width="0.00">172.8</text><text x="282" y="458.32" font-size="4.4325" stroke-width="0.00">174.3</text><text x="223" y="368.32" font-size="4.4325" stroke-width="0.00">167.2</text><text x="382" y="161.32" font-size="4.4325" stroke-width="0.00">182.1</text><text x="458" y="235.32" font-size="4.4325" stroke-width="0.00">174.4</text><text x="469.8" y="227.996" font-size="3.546" stroke-width="0.00">178.5</text><text x="483" y="229.396" font-size="3.546" stroke-width="0.00">176</text><text x="498.8" y="244.796" font-size="3.546" stroke-width="0.00">174.8</text><text x="473" y="220.496" font-size="3.546" stroke-width="0.00">181.2</text><text x="490" y="254.32" font-size="4.4325" stroke-width="0.00">179.3</text><text x="417.5" y="343.212" font-size="4.137" stroke-width="0.00">168.2</text><text x="464" y="355.32" font-size="4.4325" stroke-width="0.00">170.1</text><text x="519" y="359.32" font-size="4.4325" stroke-width="0.00">167</text><text x="654" y="280.14" font-size="3.94" stroke-width="0.00">164.4</text><text x="805" y="379.32" font-size="4.4325" stroke-width="0.00">168</text><text x="801" y="265.32" font-size="4.4325" stroke-width="0.00">170.8</text><text x="558" y="413.32" font-size="4.4325" stroke-width="0.00">168.3</text><text x="774" y="262.14" font-size="3.94" stroke-width="0.00">175.5</text><text x="772" y="251.14" font-size="3.94" stroke-width="0.00">172</text><text x="709" y="308.14" font-size="3.94" stroke-width="0.00">163</text><text x="716" y="323.14" font-size="3.94" stroke-width="0.00">168.1</text><text x="713" y="331.14" font-size="3.94" stroke-width="0.00">165.3</text><text x="191" y="325.14" font-size="3.94" stroke-width="0.00">167.9</text><text x="200" y="327.14" font-size="3.94" stroke-width="0.00">166.4</text><text x="205" y="333.14" font-size="3.94" stroke-width="0.00">168.6</text><text x="279" y="354.14" font-size="3.94" stroke-width="0.00">170.2</text><text x="289" y="356.14" font-size="3.94" stroke-width="0.00">174</text><text x="428.4" y="331.12" font-size="4.4325" stroke-width="0.00">171.8</text><text x="428.5" y="347.64" font-size="3.94" stroke-width="0.00">169.2</text><text x="463.5" y="367.568" font-size="3.743" stroke-width="0.00">170.5</text><text x="474" y="364.468" font-size="3.743" stroke-width="0.00">171.1</text><text x="392" y="324.496" font-size="3.546" stroke-width="0.00">165.4</text><text x="397" y="333.924" font-size="3.349" stroke-width="0.00">166.1</text><text x="404" y="335.424" font-size="3.349" stroke-width="0.00">168.3</text></g>
</svg>
<div class="ttl">Average Height of Adult Men (cm)</div>
<div class="lg"></div>
<div class="tk" style="left:323px"></div><div class="tk" style="left:432px"></div><div class="tk" style="left:541px"></div>
<div class="tl" style="left:215px;top:568px">160.1</div>
<div class="tl" style="left:323px;top:571px">170.2</div>
<div class="tl" style="left:432px;top:571px">174.4</div>
<div class="tl" style="left:541px;top:571px">178.7</div>
<div class="tl" style="left:649px;top:568px">183.8</div>
<svg style="position:absolute;left:0;top:584px" width="30" height="48" viewBox="0 584 30 48">
<circle cx="6.2" cy="608" r="17" fill="#fbfbfb" stroke="#dcdcdc" stroke-width="0.8"/>
<circle cx="6.2" cy="608" r="15" fill="#4569c9"/>
<path d="M6.2,608 L7.2,593 A15,15 0 0 0 -8.700,606 Z" fill="#e6c765"/>
<path d="M6.2,608 L-8.700,606 A15,15 0 0 0 -2.500,620.300 Z" fill="#e98b44"/>
</svg>
<svg style="position:absolute;left:33px;top:612px" width="15" height="13" viewBox="0 0 24 20"><path d="M23.6 2.4c-.9.4-1.800.7-2.800.8 1-.6 1.800-1.600 2.100-2.700-.9.600-2 1-3.100 1.200C18.900.7 17.700.1 16.300.1c-2.700 0-4.800 2.200-4.800 4.800 0 .4 0 .8.100 1.100C7.600 5.800 4 3.900 1.700 1C1.200 1.700 1 2.500 1 3.400c0 1.700.9 3.200 2.200 4-.8 0-1.500-.2-2.200-.6v.1c0 2.300 1.700 4.300 3.900 4.700-.4.100-.8.200-1.300.2-.3 0-.6 0-.9-.1.600 1.900 2.400 3.300 4.500 3.400-1.700 1.300-3.700 2.100-6 2.100-.4 0-.8 0-1.200-.1 2.100 1.400 4.700 2.200 7.400 2.200 8.900 0 13.700-7.400 13.700-13.700v-.6c1-.7 1.800-1.500 2.500-2.600z" fill="#3c9be8"/></svg>
<div class="src">Source: World of Statistics</div>
<div class="tw">@stats_feed</div>
<svg style="position:absolute;left:606px;top:604px" width="28" height="28" viewBox="606 604 28 28">
<circle cx="620" cy="618.3" r="11.4" fill="#506eb0"/>
<path d="M620,611 c3.700,0 6.500,2.900 6.500,6.400 c0,1.900 -0.800,3.500 -2.100,4.800 l-3.200,7.600 l-3.300,-4.500 l-2.500,-3.200 c-1.200,-1.200 -1.900,-2.900 -1.900,-4.700 c0,-3.500 2.800,-6.400 6.500,-6.400z" fill="#f5f5f5"/>
<circle cx="620.2" cy="617.5" r="3.100" fill="#506eb0"/>
</svg>
<div class="cr">Created with</div><div class="ps">PlotSet.com</div>
</body></html>
